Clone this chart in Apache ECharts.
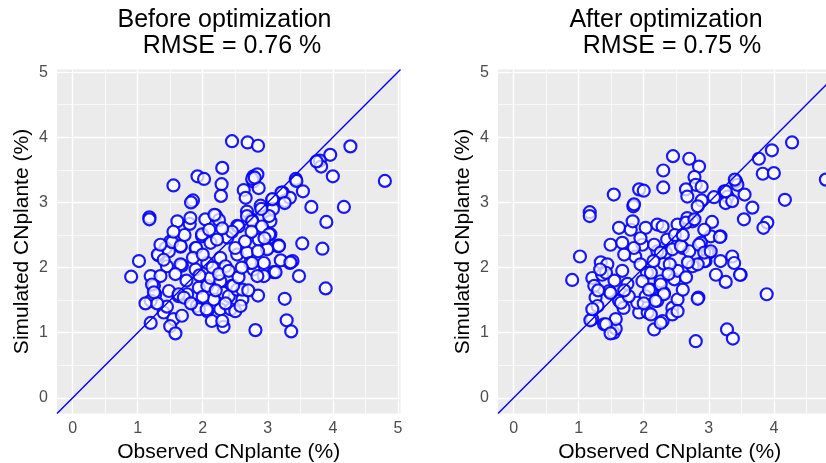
<!DOCTYPE html>
<html>
<head>
<meta charset="utf-8">
<script src="https://cdn.jsdelivr.net/npm/echarts@6/dist/echarts.min.js"></script>
<style>
html,body{margin:0;padding:0;background:#fff;}
#c{width:826px;height:463px;}
</style>
</head>
<body>
<div id="c"></div>
<script>
// ---- data ----
const panelTitles = ["Before optimization", "After optimization"];
const rmseLabels = ["RMSE = 0.76 %", "RMSE = 0.75 %"];
const xAxisName = "Observed CNplante (%)";
const yAxisName = "Simulated CNplante (%)";
const tickValues = [0, 1, 2, 3, 4, 5];
const majorBreaks = [0, 1, 2, 3, 4, 5];
const minorBreaks = [0.5, 1.5, 2.5, 3.5, 4.5];
const AXIS_MIN = -0.24;
const AXIS_MAX = 5.04;

const beforePoints = [
[2.45,3.94],[2.69,3.92],[2.85,3.87],[4.27,3.86],[3.96,3.73],[3.80,3.64],[3.82,3.55],[4.00,3.40],[4.80,3.33],
[2.30,3.53],[1.92,3.40],[2.02,3.36],[1.55,3.26],[2.29,3.28],[2.28,3.10],[2.78,3.40],[2.84,3.43],[2.78,3.32],
[2.86,3.22],[2.63,3.19],[2.66,3.07],[1.85,3.03],[1.82,3.00],[1.18,2.77],[1.18,2.74],[1.02,2.10],[0.90,1.86],
[3.43,3.36],[3.44,3.33],[3.54,3.17],[3.67,2.93],[4.17,2.93],[3.90,2.70],[3.23,3.15],[3.26,3.02],[3.34,3.07],
[3.07,3.04],[3.08,2.90],[3.04,2.71],[2.89,2.95],[3.53,2.37],[3.84,2.29],[3.15,2.33],[3.38,2.10],[3.34,2.07],
[3.48,1.87],[3.89,1.68],[2.85,1.57],[3.26,1.52],[3.29,1.19],[3.36,1.02],[2.81,1.04],[2.94,2.07],[3.09,1.93],
[2.94,1.87],[2.78,1.97],[3.00,2.30],[2.86,2.43],[3.04,2.51],[2.68,2.86],[2.75,2.74],[2.53,2.64],
[1.61,2.71],[1.80,2.67],[2.04,2.74],[2.20,2.80],[2.25,2.73],[1.81,2.76],[1.50,2.40],[1.43,2.30],[1.66,2.32],
[1.89,2.30],[1.99,2.48],[2.12,2.38],[2.38,2.46],[2.55,2.63],[2.68,2.79],[2.76,2.71],[2.91,2.63],[3.02,2.79],
[1.32,2.19],[1.45,2.02],[1.68,2.03],[1.89,1.97],[2.07,2.07],[2.27,2.15],[2.35,2.02],[2.53,2.20],[2.68,2.23],
[2.73,2.07],[2.84,1.87],[1.20,1.87],[1.35,1.87],[1.25,1.72],[1.27,1.59],[1.20,1.49],[1.48,1.64],[1.63,1.56],
[1.76,1.59],[1.91,1.41],[1.94,1.69],[2.07,1.72],[2.12,1.84],[2.27,1.79],[2.32,1.61],[2.45,1.72],[2.40,1.56],
[2.53,1.66],[2.61,1.51],[2.27,1.36],[2.43,1.36],[2.50,1.33],[2.07,1.33],[1.94,1.36],[1.20,1.15],[1.40,1.31],
[1.55,1.21],[1.68,1.26],[1.50,1.10],[1.58,0.99],[2.14,1.18],[2.32,1.09],[1.31,2.20],[1.48,2.25],[1.66,2.05],
[1.22,1.74],[1.63,1.59],[1.71,1.54],[2.06,1.36],[2.17,1.51],[2.58,1.41],[2.30,1.18],[2.61,1.66],[2.47,1.72],
[1.53,2.39],[1.66,2.33],[1.90,2.30],[2.22,2.43],[1.99,2.51],[2.18,2.81],[3.17,2.34],[3.02,2.51],[3.12,1.93],
[2.76,2.07],[3.20,2.11],[3.35,2.08],[3.17,2.33],[2.99,2.28],[3.21,3.15],[3.26,2.99],[3.75,3.63],
[3.07,3.05],[2.76,3.36],[2.80,3.38],[2.90,2.90],
[1.40,2.12],[1.58,1.90],[1.75,1.80],[1.85,2.15],[2.00,2.20],[2.15,2.00],[2.25,1.90],[2.40,1.95],[2.55,1.85],
[2.65,2.40],[2.45,2.55],[2.30,2.60],[2.00,1.55],[1.82,1.45],[2.20,1.65],[2.60,2.00],[1.72,2.50],[1.55,2.55],
[1.35,2.35],[2.85,2.25],[2.95,2.45],[2.50,2.30],[2.10,2.58],[1.95,1.88],[1.45,1.40],[1.30,1.45],[2.35,1.45],
[2.70,1.65],[2.75,2.55],[1.12,1.45],[1.25,1.62]
];

const afterPoints = [
[2.45,3.71],[2.70,3.67],[2.85,3.55],[4.28,3.92],[3.97,3.80],[3.77,3.67],[3.83,3.44],[4.00,3.45],[4.80,3.35],
[2.30,3.49],[2.30,3.23],[1.93,3.20],[2.00,3.18],[1.54,3.12],[2.78,3.39],[2.80,3.27],[2.89,3.24],[2.65,3.20],
[2.67,3.09],[3.42,3.32],[3.44,3.27],[3.55,3.12],[3.24,3.17],[3.29,3.09],[3.26,2.99],[3.08,3.08],[2.89,3.03],
[3.67,2.92],[4.17,3.04],[3.54,2.74],[3.90,2.69],[3.84,2.61],[3.05,2.70],[2.83,2.94],[2.75,2.71],[2.52,2.66],
[2.67,2.76],[3.18,2.48],[3.03,2.48],[1.84,2.94],[1.85,2.97],[1.17,2.85],[1.17,2.79],[1.62,2.61],[1.80,2.58],
[2.03,2.61],[2.21,2.66],[2.29,2.63],[1.83,2.71],[1.49,2.35],[1.67,2.38],[1.98,2.35],[2.36,2.43],[1.02,2.17],
[0.90,1.81],[1.21,1.84],[1.24,1.72],[1.34,2.08],[1.44,2.05],[1.36,1.89],[1.67,1.95],[1.87,2.17],[2.05,1.92],
[2.31,2.06],[2.34,2.23],[2.21,2.25],[2.44,2.28],[2.60,2.30],[2.70,2.25],[2.88,2.38],[3.01,2.23],[2.75,2.02],
[2.95,2.10],[3.18,2.10],[3.36,2.17],[3.39,2.07],[3.49,1.89],[3.11,1.89],[3.26,1.78],[3.89,1.59],[2.84,1.54],
[2.80,0.87],[3.28,1.05],[3.37,0.91],[1.21,1.21],[1.39,1.13],[1.54,1.00],[1.57,1.06],[1.57,1.21],[1.26,1.54],
[1.29,1.41],[1.47,1.64],[1.62,1.49],[1.69,1.38],[1.93,1.31],[1.90,1.46],[2.11,1.66],[2.21,1.49],[2.31,1.61],
[2.44,1.38],[2.52,1.51],[2.60,1.66],[2.47,1.82],[2.26,1.79],[2.16,1.05],[2.29,1.18],[2.06,1.31],[1.98,1.79],
[2.11,1.92],[2.03,1.56],[1.85,2.30],[2.16,2.35],[2.57,2.33],[2.85,2.35],[2.98,2.23],[2.65,2.69],
[2.78,2.74],[2.93,2.58],[1.42,1.92],[2.26,2.23],[2.52,1.95],[2.93,2.10],[1.49,1.61],[1.65,1.46],[1.77,1.56],
[2.08,1.66],[2.26,1.74],[2.31,1.59],[2.83,1.52],[2.18,1.49],[2.11,1.28],[2.26,1.15],[2.44,1.28],[2.52,1.33],
[1.18,1.19],[1.42,1.13],[1.49,0.99],[1.21,1.36],[3.40,3.35],[3.36,3.02],[3.17,2.47],[2.83,2.05],[2.93,2.23],
[3.48,1.89],[3.03,2.25],[3.26,3.17],
[1.55,1.80],[1.75,1.75],[1.70,2.20],[1.95,2.05],[2.40,2.05],[2.65,1.85],[2.15,2.10],[2.38,1.90],[1.30,1.65],
[2.00,1.45],[2.48,2.50],[2.60,2.50],[1.70,1.65],[1.95,2.45],[2.68,2.08],[1.33,1.97]
];

// ---- chart ----
const FONT = "Liberation Sans, Arial, sans-serif";
const panels = [
  {left: 57, data: beforePoints, center1: 224.5, center2: 232},
  {left: 498, data: afterPoints, center1: 666, center2: 672}
];
const GRID_TOP = 69.5, GRID_W = 343.5, GRID_H = 344;

const grids = [], xAxes = [], yAxes = [], series = [], graphics = [];

panels.forEach((p, i) => {
  grids.push({left: p.left, top: GRID_TOP, width: GRID_W, height: GRID_H,
    outerBoundsMode: 'none',
    show: true, backgroundColor: '#EBEBEB', borderWidth: 0, containLabel: false});
  const common = {
    type: 'value', gridIndex: i, min: AXIS_MIN, max: AXIS_MAX,
    axisLine: {show: false},
    axisTick: {show: true, length: 4, lineStyle: {color: '#333333', width: 1.1}, customValues: tickValues},
    axisLabel: {color: '#4D4D4D', fontSize: 16, fontFamily: FONT, customValues: tickValues},
    splitLine: {show: false},
    nameLocation: 'middle',
    nameTextStyle: {color: '#000', fontSize: 21, fontFamily: FONT}
  };
  xAxes.push(Object.assign({}, common, {
    name: xAxisName, nameGap: 28,
    axisLabel: Object.assign({}, common.axisLabel, {margin: 7})
  }));
  yAxes.push(Object.assign({}, common, {
    name: yAxisName, nameGap: 24,
    axisLabel: Object.assign({}, common.axisLabel, {margin: 9})
  }));

  const gridLines = [];
  minorBreaks.forEach(v => {
    gridLines.push({xAxis: v, lineStyle: {width: 0.7}});
    gridLines.push({yAxis: v, lineStyle: {width: 0.7}});
  });
  majorBreaks.forEach(v => {
    gridLines.push({xAxis: v, lineStyle: {width: 1.4}});
    gridLines.push({yAxis: v, lineStyle: {width: 1.4}});
  });
  series.push({
    type: 'line', xAxisIndex: i, yAxisIndex: i, data: [], z: 1, silent: true,
    markLine: {z: 1, silent: true, symbol: ['none', 'none'], label: {show: false}, animation: false,
      lineStyle: {color: '#FFFFFF', type: 'solid'}, emphasis: {disabled: true}, data: gridLines}
  });
  series.push({
    type: 'scatter', xAxisIndex: i, yAxisIndex: i, data: p.data, z: 3,
    symbol: 'circle', symbolSize: 12,
    itemStyle: {color: 'rgba(255,255,255,0.82)', borderColor: '#0000FF', borderWidth: 2.2, opacity: 0.9},
    emphasis: {disabled: true}, animation: false
  });
  series.push({
    type: 'line', xAxisIndex: i, yAxisIndex: i, z: 4,
    data: [[AXIS_MIN, AXIS_MIN], [AXIS_MAX, AXIS_MAX]],
    symbol: 'none', lineStyle: {color: '#0000FF', width: 1.4}, animation: false, silent: true
  });

  graphics.push({type: 'text', x: p.center1, y: 20,
    style: {text: panelTitles[i], font: '25px ' + FONT, fill: '#000', textAlign: 'center', textVerticalAlign: 'middle'}});
  graphics.push({type: 'text', x: p.center2, y: 46,
    style: {text: rmseLabels[i], font: '25px ' + FONT, fill: '#000', textAlign: 'center', textVerticalAlign: 'middle'}});
});

const chart = echarts.init(document.getElementById('c'), null, {renderer: 'canvas'});
chart.setOption({
  animation: false,
  backgroundColor: '#FFFFFF',
  grid: grids, xAxis: xAxes, yAxis: yAxes, series: series,
  graphic: graphics
});
</script>
</body>
</html>
